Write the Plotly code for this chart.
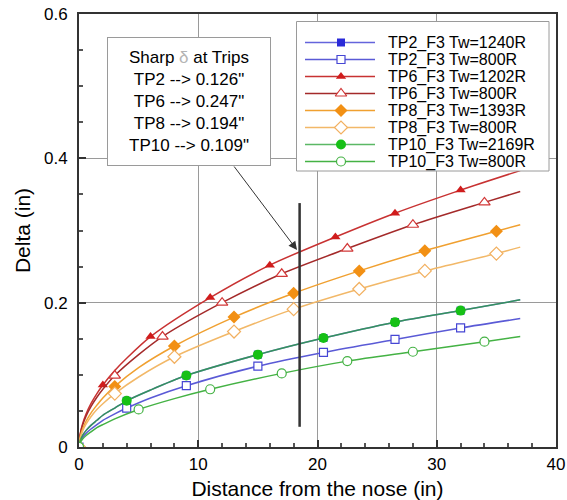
import plotly.graph_objects as go

# ---------------- data (Delta in inches vs distance from the nose in inches) ----------------
series_names = [
    "TP2_F3 Tw=1240R", "TP2_F3 Tw=800R",
    "TP6_F3 Tw=1202R", "TP6_F3 Tw=800R",
    "TP8_F3 Tw=1393R", "TP8_F3 Tw=800R",
    "TP10_F3 Tw=2169R", "TP10_F3 Tw=800R",
]

# smooth boundary-layer curves
tp2_hot_line_x = [0, 0.1, 0.3, 0.6, 1, 1.5, 2, 3, 4, 6, 9, 15, 20.5, 26.5, 32, 37]
tp2_hot_line_y = [0, 0.009, 0.016, 0.023, 0.030, 0.037, 0.044, 0.054, 0.064, 0.079, 0.099, 0.128, 0.151, 0.173, 0.189, 0.204]
tp2_cold_line_x = [0, 0.1, 0.3, 0.6, 1, 1.5, 2, 3, 4, 6, 9, 15, 20.5, 26.5, 32, 37]
tp2_cold_line_y = [0, 0.007, 0.013, 0.019, 0.025, 0.031, 0.037, 0.046, 0.054, 0.068, 0.085, 0.112, 0.131, 0.149, 0.165, 0.178]
tp6_hot_line_x = [0, 0.1, 0.3, 0.6, 1, 1.5, 2, 3, 4, 6, 11, 16, 21.5, 26.5, 32, 37]
tp6_hot_line_y = [0, 0.018, 0.032, 0.046, 0.060, 0.074, 0.086, 0.106, 0.123, 0.153, 0.207, 0.252, 0.291, 0.324, 0.356, 0.383]
tp6_cold_line_x = [0, 0.1, 0.3, 0.6, 1, 1.5, 2, 3, 5, 7, 12, 17, 22.5, 28, 34, 37]
tp6_cold_line_y = [0, 0.017, 0.030, 0.043, 0.056, 0.069, 0.080, 0.099, 0.128, 0.153, 0.200, 0.240, 0.275, 0.308, 0.339, 0.354]
tp8_hot_line_x = [0, 0.1, 0.3, 0.6, 1, 1.5, 2, 3, 5, 8, 13, 18, 23.5, 29, 35, 37]
tp8_hot_line_y = [0, 0.014, 0.025, 0.036, 0.047, 0.058, 0.068, 0.084, 0.110, 0.140, 0.180, 0.213, 0.244, 0.272, 0.299, 0.308]
tp8_cold_line_x = [0, 0.1, 0.3, 0.6, 1, 1.5, 2, 3, 5, 8, 13, 18, 23.5, 29, 35, 37]
tp8_cold_line_y = [0, 0.012, 0.022, 0.032, 0.042, 0.052, 0.060, 0.074, 0.097, 0.125, 0.160, 0.191, 0.219, 0.244, 0.268, 0.277]
tp10_hot_line_x = [0, 0.1, 0.3, 0.6, 1, 1.5, 2, 3, 4, 6, 9, 15, 20.5, 26.5, 32, 37]
tp10_hot_line_y = [0, 0.009, 0.016, 0.023, 0.030, 0.037, 0.044, 0.054, 0.064, 0.079, 0.099, 0.128, 0.151, 0.173, 0.189, 0.204]
tp10_cold_line_x = [0, 0.1, 0.3, 0.6, 1, 1.5, 2, 3, 5, 8, 11, 17, 22.5, 28, 34, 37]
tp10_cold_line_y = [0, 0.006, 0.011, 0.016, 0.021, 0.027, 0.031, 0.039, 0.052, 0.067, 0.080, 0.102, 0.119, 0.132, 0.146, 0.153]

# symbols placed along each curve
tp2_hot_pts_x = [0, 4, 9, 15, 20.5, 26.5, 32]
tp2_hot_pts_y = [0, 0.064, 0.099, 0.128, 0.151, 0.173, 0.189]
tp2_cold_pts_x = [0, 4, 9, 15, 20.5, 26.5, 32]
tp2_cold_pts_y = [0, 0.054, 0.085, 0.112, 0.131, 0.149, 0.165]
tp6_hot_pts_x = [0, 2, 6, 11, 16, 21.5, 26.5, 32]
tp6_hot_pts_y = [0, 0.086, 0.153, 0.207, 0.252, 0.291, 0.324, 0.356]
tp6_cold_pts_x = [0, 3, 7, 12, 17, 22.5, 28, 34]
tp6_cold_pts_y = [0, 0.099, 0.153, 0.200, 0.240, 0.275, 0.308, 0.339]
tp8_hot_pts_x = [0, 3, 8, 13, 18, 23.5, 29, 35]
tp8_hot_pts_y = [0, 0.084, 0.140, 0.180, 0.213, 0.244, 0.272, 0.299]
tp8_cold_pts_x = [0, 3, 8, 13, 18, 23.5, 29, 35]
tp8_cold_pts_y = [0, 0.074, 0.125, 0.160, 0.191, 0.219, 0.244, 0.268]
tp10_hot_pts_x = [0, 4, 9, 15, 20.5, 26.5, 32]
tp10_hot_pts_y = [0, 0.064, 0.099, 0.128, 0.151, 0.173, 0.189]
tp10_cold_pts_x = [0, 5, 11, 17, 22.5, 28, 34]
tp10_cold_pts_y = [0, 0.052, 0.080, 0.102, 0.119, 0.132, 0.146]

# trip location marker
trip_x = [18.5, 18.5]
trip_y = [0.028, 0.338]

x_ticks = [0, 10, 20, 30, 40]
y_ticks = [0, 0.2, 0.4, 0.6]
y_tick_text = ["0", "0.2", "0.4", "0.6"]

note_lines = ["Sharp <span style='color:#b4b4b4'>δ</span> at Trips",
              "TP2 --> 0.126\"", "TP6 --> 0.247\"", "TP8 --> 0.194\"", "TP10 --> 0.109\""]

# ---------------- styling ----------------
line_x = [tp2_hot_line_x, tp2_cold_line_x, tp6_hot_line_x, tp6_cold_line_x,
          tp8_hot_line_x, tp8_cold_line_x, tp10_hot_line_x, tp10_cold_line_x]
line_y = [tp2_hot_line_y, tp2_cold_line_y, tp6_hot_line_y, tp6_cold_line_y,
          tp8_hot_line_y, tp8_cold_line_y, tp10_hot_line_y, tp10_cold_line_y]
pts_x = [tp2_hot_pts_x, tp2_cold_pts_x, tp6_hot_pts_x, tp6_cold_pts_x,
         tp8_hot_pts_x, tp8_cold_pts_x, tp10_hot_pts_x, tp10_cold_pts_x]
pts_y = [tp2_hot_pts_y, tp2_cold_pts_y, tp6_hot_pts_y, tp6_cold_pts_y,
         tp8_hot_pts_y, tp8_cold_pts_y, tp10_hot_pts_y, tp10_cold_pts_y]

line_colors = ["#6464dc", "#5a5ad6", "#c83232", "#a42a2a",
               "#f0a030", "#f2b868", "rgba(36,160,50,0.75)", "#44b244"]
mark_colors = ["#2a2ad8", "#4646d4", "#d01c1c", "#d23838",
               "#f29014", "#f2b060", "#16c016", "#44b244"]
symbols = ["square", "square", "triangle-up", "triangle-up",
           "diamond", "diamond", "circle", "circle"]
filled = [True, False, True, False, True, False, True, False]
sizes = [8, 8, 9, 10, 10, 10, 10, 9]

FONT = "Liberation Sans, Arial, Helvetica, sans-serif"

# plot area in page pixels (used by the overlay axes for the key and note)
PX_L, PX_R, PX_T, PX_B = 79, 556, 14, 447

fig = go.Figure()


def marker_style(i):
    if filled[i]:
        return dict(symbol=symbols[i], size=sizes[i], color=mark_colors[i],
                    line=dict(width=0))
    return dict(symbol=symbols[i], size=sizes[i], color="white",
                line=dict(width=1.2, color=mark_colors[i]))


for i, name in enumerate(series_names):
    fig.add_trace(go.Scatter(x=line_x[i], y=line_y[i], mode="lines",
                             line=dict(color=line_colors[i], width=1.5, shape="spline", smoothing=0.8),
                             name=name, showlegend=False, hoverinfo="skip"))
    fig.add_trace(go.Scatter(x=pts_x[i], y=pts_y[i], mode="markers",
                             marker=marker_style(i), name=name, showlegend=False))

fig.add_trace(go.Scatter(x=trip_x, y=trip_y, mode="lines",
                         line=dict(color="#333333", width=2.5), showlegend=False, hoverinfo="skip"))

# ---------------- key box on a pixel-space overlay ----------------
key_left, key_right, key_top, key_bottom = 296.5, 549, 21.5, 171
fig.add_trace(go.Scatter(x=[key_left, key_right, key_right, key_left, key_left],
                         y=[key_top, key_top, key_bottom, key_bottom, key_top],
                         mode="lines", fill="toself", fillcolor="white",
                         line=dict(color="#9a9a9a", width=1),
                         xaxis="x2", yaxis="y2", showlegend=False, hoverinfo="skip"))

annotations = []
row0, row_step = 42.5, 17
for i, name in enumerate(series_names):
    ry = row0 + row_step * i
    fig.add_trace(go.Scatter(x=[305, 375], y=[ry, ry], mode="lines",
                             line=dict(color=line_colors[i], width=1.5),
                             xaxis="x2", yaxis="y2", showlegend=False, hoverinfo="skip"))
    fig.add_trace(go.Scatter(x=[341], y=[ry], mode="markers", marker=marker_style(i),
                             xaxis="x2", yaxis="y2", showlegend=False, hoverinfo="skip"))
    annotations.append(dict(x=386, y=ry, xref="x2", yref="y2", text=name, showarrow=False,
                            xanchor="left", yanchor="middle",
                            font=dict(family=FONT, size=16, color="black")))

# note box with the sharp-nose thicknesses
annotations.append(dict(x=188.5, y=101, xref="x2", yref="y2",
                        text="<br>".join(note_lines), showarrow=False,
                        xanchor="center", yanchor="middle", align="center",
                        width=162, height=127, bgcolor="white",
                        bordercolor="#9a9a9a", borderwidth=1, borderpad=0,
                        font=dict(family=FONT, size=17, color="black")))
# pointer from the note to the trip line
annotations.append(dict(x=297, y=250, xref="x2", yref="y2",
                        ax=233, ay=165, axref="x2", ayref="y2",
                        text="", showarrow=True, arrowhead=2, arrowsize=1.7,
                        arrowwidth=1, arrowcolor="#333333", standoff=0, startstandoff=0))

axis_font = dict(family=FONT, size=17, color="black")
fig.update_layout(
    width=567, height=500,
    margin=dict(l=PX_L, r=567 - PX_R, t=PX_T, b=500 - PX_B),
    paper_bgcolor="white", plot_bgcolor="white",
    font=dict(family=FONT, color="black"),
    showlegend=False,
    annotations=annotations,
    xaxis=dict(range=[0, 40], tickvals=x_ticks, ticks="inside", ticklen=7, tickwidth=1.5,
               tickcolor="#333333", tickfont=axis_font, showgrid=True, gridcolor="#9a9a9a",
               gridwidth=1, zeroline=False, showline=True, mirror=True, linecolor="#333333",
               linewidth=2, ticklabelstandoff=1, automargin=False,
               minor=dict(dtick=2, ticks="inside", ticklen=4, tickcolor="#555555", showgrid=False),
               title=dict(text="Distance from the nose (in)", font=dict(family=FONT, size=21),
                          standoff=13)),
    yaxis=dict(range=[0, 0.6], tickvals=y_ticks, ticktext=y_tick_text, ticks="inside",
               ticklen=7, tickwidth=1.5, tickcolor="#333333", tickfont=axis_font,
               showgrid=True, gridcolor="#9a9a9a", gridwidth=1, zeroline=False,
               showline=True, mirror=True, linecolor="#333333", linewidth=2,
               ticklabelstandoff=6, automargin=False,
               minor=dict(dtick=0.05, ticks="inside", ticklen=4, tickcolor="#555555", showgrid=False),
               title=dict(text="Delta (in)", font=dict(family=FONT, size=21), standoff=8)),
    xaxis2=dict(overlaying="x", anchor="y2", range=[PX_L, PX_R], visible=False, fixedrange=True),
    yaxis2=dict(overlaying="y", anchor="x2", range=[PX_B, PX_T], visible=False, fixedrange=True),
)

fig.write_html("out.html")
